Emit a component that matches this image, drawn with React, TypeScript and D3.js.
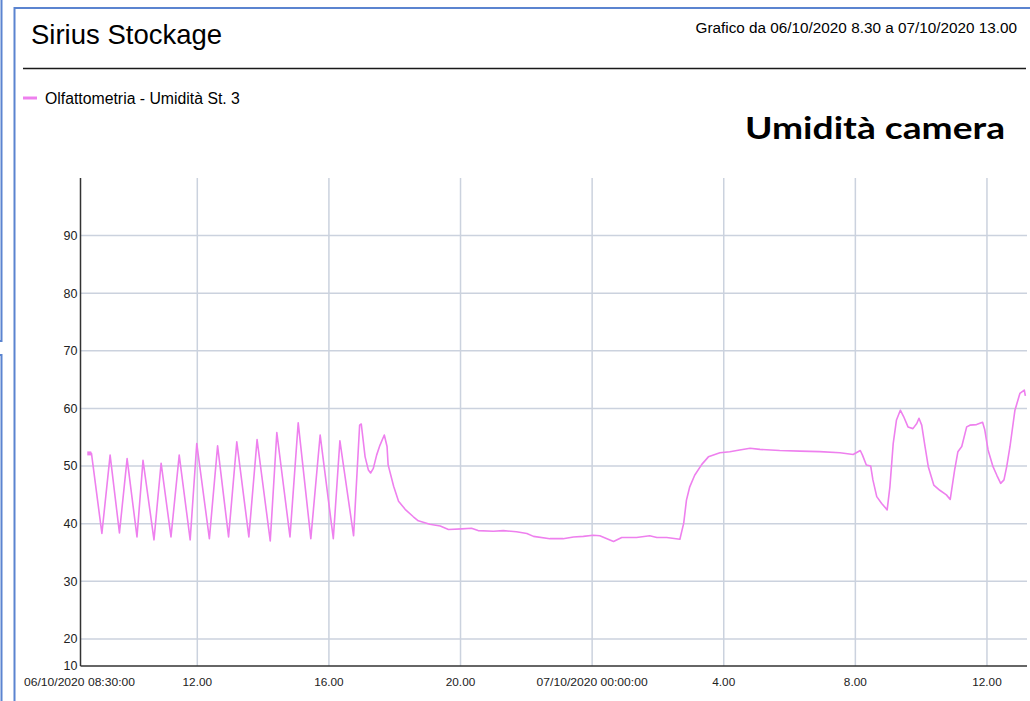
import React from 'react';
import * as d3 from 'd3';

// ---------- data ----------
const chartTitle = 'Sirius Stockage';
const chartSubtitle = 'Grafico da 06/10/2020 8.30 a 07/10/2020 13.00';
const seriesName = 'Olfattometria - Umidità St. 3';
const annotation = 'Umidità camera';

const startTime = new Date(2020, 9, 6, 8, 30);
const domainStart = new Date(2020, 9, 6, 8, 27);
const domainEnd = new Date(2020, 9, 7, 13, 13);

// minutes after 06/10/2020 08:30
const minutesFromStart = [
  13, 17, 36, 51, 68, 82, 100, 111, 131, 144, 162, 177, 197, 209, 232, 247, 267, 282,
  304, 319, 343, 355, 379, 394, 417, 434, 458, 470, 495, 506, 509, 516, 522, 526, 531,
  537, 543, 551, 556, 558, 568, 577, 589, 604, 613, 634, 653, 668, 692, 710, 722, 750,
  768, 792, 811, 823, 853, 877, 896, 914, 932, 944, 957, 969, 984, 1011, 1035, 1048,
  1066, 1090, 1097, 1102, 1108, 1117, 1130, 1142, 1163, 1181, 1199, 1218, 1236, 1272,
  1309, 1345, 1382, 1406, 1419, 1423, 1430, 1438, 1442, 1449, 1458, 1468, 1473, 1479,
  1485, 1492, 1498, 1506, 1515, 1522, 1526, 1531, 1537, 1543, 1553, 1564, 1576, 1583,
  1591, 1597, 1604, 1613, 1619, 1631, 1642, 1646, 1652, 1661, 1668, 1675, 1681, 1686,
  1692, 1701, 1710, 1718, 1720,
];

const humidity = [
  52.2, 52.2, 38.3, 51.9, 38.4, 51.3, 37.7, 51.0, 37.2, 50.5, 37.7, 51.9, 37.2, 53.9,
  37.4, 53.5, 37.7, 54.2, 37.7, 54.6, 37.0, 55.8, 37.7, 57.5, 37.4, 55.4, 37.4, 54.4,
  37.9, 57.1, 57.3, 51.6, 49.3, 48.8, 49.6, 51.9, 53.6, 55.4, 53.4, 50.2, 46.5, 43.9,
  42.5, 41.2, 40.5, 39.9, 39.6, 39.0, 39.1, 39.2, 38.8, 38.7, 38.8, 38.6, 38.3, 37.8,
  37.4, 37.4, 37.7, 37.8, 38.0, 37.9, 37.4, 36.9, 37.6, 37.6, 37.9, 37.6, 37.6, 37.3,
  40.1, 44.1, 46.4, 48.4, 50.3, 51.6, 52.3, 52.5, 52.8, 53.1, 52.9, 52.7, 52.6, 52.5,
  52.3, 52.0, 52.7, 51.9, 50.2, 50.0, 47.6, 44.7, 43.5, 42.4, 46.4, 53.9, 58.0, 59.7,
  58.6, 56.8, 56.5, 57.4, 58.3, 57.1, 53.4, 49.9, 46.7, 45.8, 45.0, 44.2, 49.3, 52.5,
  53.4, 56.8, 57.1, 57.2, 57.6, 56.3, 52.8, 49.9, 48.4, 47.0, 47.6, 49.9, 53.4, 59.7,
  62.6, 63.2, 62.2,
];

const yTicks = [20, 30, 40, 50, 60, 70, 80, 90];
const yMinLabel = '10';
const yDomain = [15.3, 100];

const xTickTimes = [
  new Date(2020, 9, 6, 8, 30),
  new Date(2020, 9, 6, 12, 0),
  new Date(2020, 9, 6, 16, 0),
  new Date(2020, 9, 6, 20, 0),
  new Date(2020, 9, 7, 0, 0),
  new Date(2020, 9, 7, 4, 0),
  new Date(2020, 9, 7, 8, 0),
  new Date(2020, 9, 7, 12, 0),
];
const xTickLabels = [
  '06/10/2020 08:30:00', '12.00', '16.00', '20.00',
  '07/10/2020 00:00:00', '4.00', '8.00', '12.00',
];

// ---------- chart ----------
const W = 1030;
const H = 701;
const plot = { left: 80.5, right: 1027, top: 178, bottom: 666 };
const lineColor = '#ee80ee';
const gridColor = '#cbd2de';
const frameBlue = '#5b84d0';
const font = 'Arial, "Liberation Sans", sans-serif';

export default function App() {
  const points = minutesFromStart.map((m, i) => ({
    t: d3.timeMinute.offset(startTime, m),
    v: humidity[i],
  }));

  const x = d3.scaleTime().domain([domainStart, domainEnd]).range([plot.left, plot.right]);
  const y = d3.scaleLinear().domain(yDomain).range([plot.bottom, plot.top]);

  const line = d3
    .line<{ t: Date; v: number }>()
    .x((d) => x(d.t))
    .y((d) => y(d.v))
    .curve(d3.curveLinear);

  const first = points[0];

  return (
    <svg
      width={W}
      height={H}
      style={{ position: 'absolute', left: 0, top: 0, background: '#fff' }}
      fontFamily={font}
    >
      <rect x={0} y={0} width={W} height={H} fill="#fff" />

      {/* blue frames */}
      <path d="M1.5,0 V341 H0" fill="none" stroke={frameBlue} strokeWidth={2} />
      <path d="M0,355 H1.5 V701" fill="none" stroke={frameBlue} strokeWidth={2} />
      <path d={`M14.5,701 V8 H${W}`} fill="none" stroke={frameBlue} strokeWidth={2} />

      {/* header */}
      <text x={31} y={43.5} fontSize={27.5} fill="#000">{chartTitle}</text>
      <text x={1017} y={33} fontSize={15.3} fill="#000" textAnchor="end">{chartSubtitle}</text>
      <line x1={23} x2={1026} y1={68.5} y2={68.5} stroke="#1a1a1a" strokeWidth={1.6} />

      {/* legend */}
      <line x1={23} x2={37} y1={98} y2={98} stroke={lineColor} strokeWidth={3} />
      <text x={45} y={103.5} fontSize={15.8} fill="#000">{seriesName}</text>

      {/* annotation */}
      <text
        x={1005}
        y={138.5}
        fontSize={30}
        fontWeight="bold"
        textAnchor="end"
        fontFamily='Lato, "Open Sans", sans-serif'
        fill="#000"
        textLength={260}
        lengthAdjust="spacingAndGlyphs"
      >
        {annotation}
      </text>

      {/* grid */}
      {yTicks.map((v) => (
        <line
          key={'gy' + v}
          x1={plot.left}
          x2={plot.right}
          y1={y(v)}
          y2={y(v)}
          stroke={gridColor}
          strokeWidth={1.5}
        />
      ))}
      {xTickTimes.slice(1).map((t, i) => (
        <line
          key={'gx' + i}
          x1={x(t)}
          x2={x(t)}
          y1={plot.top}
          y2={plot.bottom}
          stroke={gridColor}
          strokeWidth={1.5}
        />
      ))}

      {/* axes */}
      <line x1={plot.left} x2={plot.left} y1={plot.top} y2={plot.bottom} stroke="#333" strokeWidth={1.5} />
      <line x1={plot.left} x2={plot.right} y1={plot.bottom} y2={plot.bottom} stroke="#333" strokeWidth={1.5} />

      {/* y labels */}
      {yTicks.map((v) => (
        <text key={'ly' + v} x={77.5} y={y(v)} dy="0.35em" fontSize={12.5} textAnchor="end" fill="#222">
          {v}
        </text>
      ))}
      <text x={77.5} y={plot.bottom} dy="0.35em" fontSize={12.5} textAnchor="end" fill="#222">
        {yMinLabel}
      </text>

      {/* x labels */}
      {xTickTimes.map((t, i) => (
        <text
          key={'lx' + i}
          x={i === 0 ? plot.left - 1 : x(t)}
          y={686}
          fontSize={11.8}
          textAnchor="middle"
          fill="#222"
          {...(xTickLabels[i].length > 8 ? { textLength: 111, lengthAdjust: 'spacingAndGlyphs' } : {})}
        >
          {xTickLabels[i]}
        </text>
      ))}

      {/* series */}
      <path d={line(points) || ''} fill="none" stroke={lineColor} strokeWidth={1.6} strokeLinejoin="round" />
      <rect x={x(first.t) - 2} y={y(first.v) - 2} width={4} height={4} fill={lineColor} />
    </svg>
  );
}
